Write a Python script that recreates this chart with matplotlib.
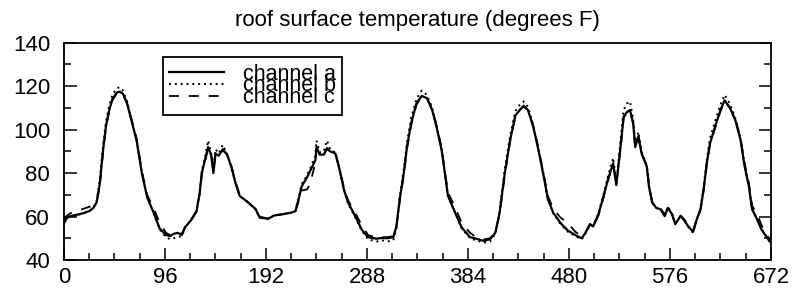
"""
Roof surface temperature, three sensor channels over 672 hours
"""

import matplotlib
matplotlib.use("Agg")
import matplotlib.pyplot as plt
from matplotlib.ticker import MultipleLocator

plt.rcParams['font.family'] = ['Liberation Sans', 'DejaVu Sans']

# sample positions (hours)
hours = [0, 3, 6, 12, 18, 24, 28, 31, 34, 37,
         40, 43, 46, 50, 53, 56, 60, 64, 69, 74,
         79, 85, 91, 97, 101, 104, 108, 112, 115, 121,
         126, 129, 131, 134, 137, 140, 142, 144, 147, 151,
         155, 159, 163, 167, 175, 182, 186, 194, 200, 207,
         216, 220, 223, 226, 231, 234, 239, 240, 243, 247,
         250, 253, 258, 262, 266, 270, 277, 283, 289, 297,
         303, 307, 313, 316, 319, 323, 326, 330, 335, 340,
         345, 350, 354, 359, 362, 365, 372, 378, 386, 392,
         399, 405, 410, 414, 419, 424, 429, 434, 437, 441,
         446, 451, 456, 460, 465, 472, 479, 486, 492, 495,
         500, 503, 508, 513, 517, 522, 525, 529, 532, 535,
         538, 541, 543, 546, 549, 554, 556, 559, 563, 567,
         571, 574, 578, 581, 586, 590, 593, 598, 601, 605,
         608, 611, 614, 619, 624, 628, 633, 638, 643, 647,
         651, 654, 659, 663, 668, 672]

channel_a = [57, 59.5, 60.2, 60.8, 61.5, 62.5, 64, 66.5, 75, 90,
             102, 109, 114, 117, 117.5, 116.5, 112, 104.5, 95, 80,
             69, 62, 54.5, 51.5, 51, 52, 52.5, 51.5, 55, 58.5,
             62.5, 71, 80, 86, 92, 88, 80, 89, 88, 91,
             88.5, 83, 75.5, 69.5, 66.5, 63.5, 59.5, 59, 60.5, 61,
             61.8, 62.5, 68, 74, 78, 81, 86, 92, 88.5, 88.5,
             91.5, 90, 89, 81.5, 72.5, 66.5, 60, 54, 50.5, 49.8,
             50.2, 50, 50.5, 55.5, 67.5, 80, 92, 103, 112, 115.5,
             114.5, 109, 101.5, 90.5, 80, 69.5, 61.5, 55, 50.5, 49.8,
             48.8, 49.6, 52.5, 61.5, 80, 95, 106.5, 109.5, 111, 109,
             101.5, 90.5, 78.5, 68, 61.8, 57, 53.5, 51.5, 50, 52,
             56.5, 55.5, 61, 69.5, 77, 84.5, 74.5, 92, 106, 108,
             109, 103, 92, 97, 89, 83, 74, 66.5, 64, 63.3,
             60.2, 64, 61, 56.5, 60.2, 58, 55.7, 53, 58, 63.3,
             72.4, 84.5, 93.5, 101.5, 109, 113.5, 110, 104.5, 95.5, 83,
             74, 63.5, 58.5, 54, 50.5, 48]

channel_b = [57.5, 59.5, 60, 60.5, 61.5, 62.5, 64, 67, 77, 92,
             104, 111, 116, 119, 119.5, 118, 113, 105, 95.5, 80.5,
             69, 62, 54, 50.5, 49.5, 50, 50.5, 51, 55, 58.5,
             62.5, 71.5, 81, 87, 95, 89, 81, 91, 89, 93,
             89, 83, 75.5, 69.5, 66.5, 63.5, 59.5, 59, 60.5, 61,
             61.8, 62.5, 68.5, 75, 79, 82, 88, 95, 89.5, 90,
             95, 91, 89.5, 81.5, 72.5, 66, 59.5, 53.5, 49.5, 48.5,
             49, 48.5, 49, 54.5, 68.5, 82, 94, 105.5, 114, 118,
             116, 110, 102, 91, 80.5, 69.5, 61.5, 54.5, 50, 49,
             48, 48.5, 52, 62.5, 82, 97, 108.5, 112, 113, 110.5,
             102, 91, 79, 68, 61.5, 56.5, 53, 51, 49.5, 51.5,
             56, 55.5, 61.5, 70.5, 78.5, 87, 75, 95, 109, 112,
             113, 105, 93, 99, 90, 83.5, 74, 66.5, 64, 63.3,
             60.5, 64.5, 61.5, 56.5, 60.5, 58, 55.5, 52.5, 58, 63.5,
             73.5, 86, 96, 104, 111.5, 116, 112, 105.5, 96, 83.5,
             74, 63.5, 59, 54.5, 50.5, 47.5]

channel_c = [59, 60.5, 61.5, 62.5, 63.5, 64.5, 65, 66.5, 74, 89,
             101, 108.5, 113.5, 116.5, 117.5, 116.5, 112, 105, 96, 81,
             70, 64, 57, 52.5, 51.5, 52, 52.5, 52, 55, 58.5,
             62.5, 70.5, 79.5, 85.5, 91, 88, 81, 88.5, 88, 90.5,
             88.5, 83.5, 76, 70, 66.5, 63.5, 60, 59, 60.5, 61,
             61.8, 62.5, 67, 72, 72.5, 75, 85, 91, 88, 88.5,
             91, 90, 89, 82, 73.5, 67.5, 61.5, 56, 51.5, 50.2,
             50.5, 50.5, 51, 55.5, 66.5, 79, 91, 102, 111.5, 115,
             114.5, 109.5, 102, 91.5, 81, 71, 64, 57, 52.5, 50.5,
             49.5, 50, 53, 61, 79, 94.5, 106, 109.5, 110.5, 109,
             102, 91.5, 79.5, 69.5, 63.5, 59.5, 57, 53, 51, 52,
             56.5, 55.5, 60.5, 69, 76.5, 84, 75, 91, 105.5, 107.5,
             108.5, 103, 92, 96.5, 89, 83.5, 75, 67, 65, 63.8,
             61, 64, 61, 57, 60.5, 58.5, 56, 53.5, 58, 63,
             72, 84, 93, 101, 108.5, 113, 110, 105, 96.5, 84.5,
             75.5, 65, 61, 56, 51.5, 48.5]

labels = ['channel a', 'channel b', 'channel c']

fig = plt.figure(figsize=(7.93, 2.98), dpi=100)
ax = fig.add_axes([0.0807, 0.1275, 0.8915, 0.7292])

ax.plot(hours, channel_a, color='black', lw=1.6, ls='-', label=labels[0], zorder=4)
ax.plot(hours, channel_b, color='black', lw=1.4, ls=(0, (1, 2)), label=labels[1], zorder=3)
ax.plot(hours, channel_c, color='black', lw=1.3, ls=(0, (5.5, 5.5)), label=labels[2], zorder=2)

ax.set_xlim(0, 672)
ax.set_ylim(40, 140)
ax.set_xticks(range(0, 673, 96))
ax.xaxis.set_minor_locator(MultipleLocator(24))
ax.yaxis.set_major_locator(MultipleLocator(20))
ax.yaxis.set_minor_locator(MultipleLocator(10))
ax.tick_params(which='both', direction='in', right=True, width=1.1, labelsize=16)
ax.tick_params(which='major', length=9)
ax.tick_params(which='minor', length=5)
ax.tick_params(axis='x', pad=5)
ax.tick_params(axis='y', pad=10)
for s in ax.spines.values():
    s.set_linewidth(1.3)

ax.set_title('roof surface temperature (degrees F)', fontsize=16, pad=12)

leg = ax.legend(loc='upper left', bbox_to_anchor=(0.14, 0.934), borderaxespad=0,
                fancybox=False, edgecolor='black', framealpha=1, fontsize=15.5,
                handlelength=2.55, handletextpad=0.85, labelspacing=-0.42,
                borderpad=0.3)
leg.get_frame().set_linewidth(1.3)

fig.savefig('out.png', dpi=100)
